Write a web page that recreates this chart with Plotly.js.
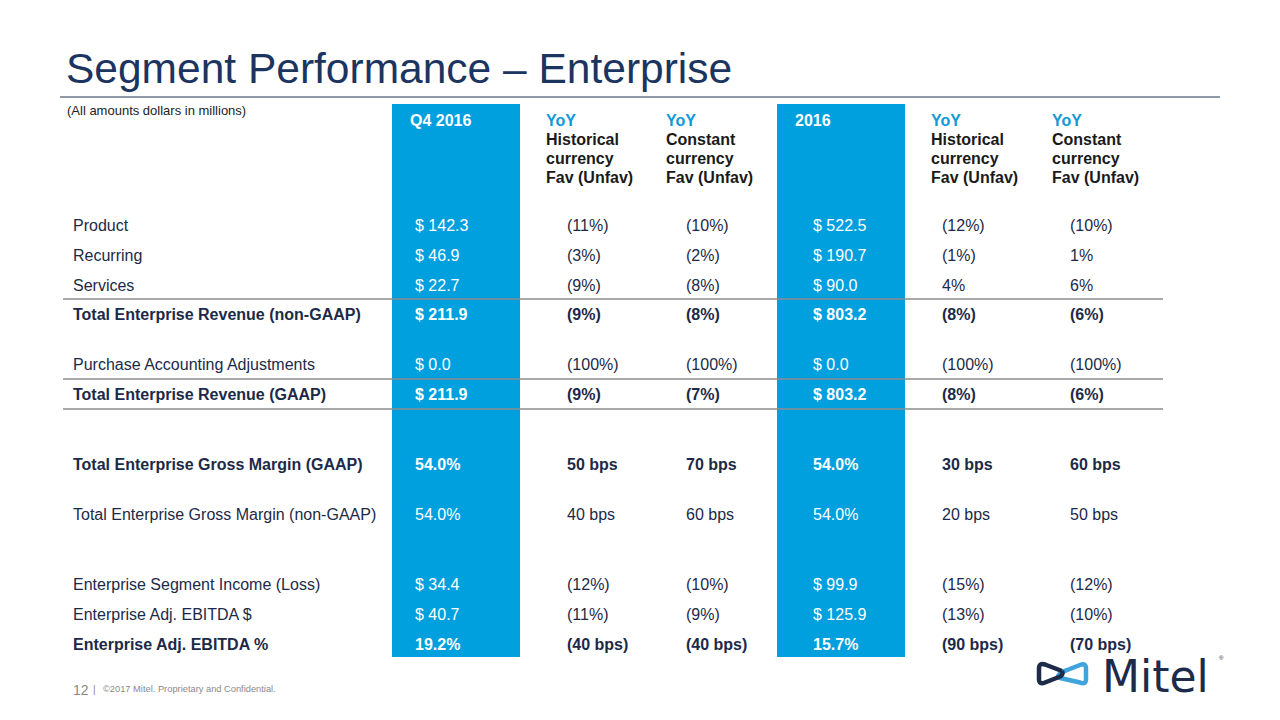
<!DOCTYPE html>
<html>
<head>
<meta charset="utf-8">
<script src="https://cdn.plot.ly/plotly-3.0.1.min.js"></script>
<style>html,body{margin:0;padding:0;background:#fff;}#chart{width:1280px;height:720px;}</style>
</head>
<body>
<div id="chart"></div>
<script>
// ---- Data ----
var rowLabels = ["Product","Recurring","Services","Total Enterprise Revenue (non-GAAP)","Purchase Accounting Adjustments","Total Enterprise Revenue (GAAP)","Total Enterprise Gross Margin (GAAP)","Total Enterprise Gross Margin (non-GAAP)","Enterprise Segment Income (Loss)","Enterprise Adj. EBITDA $","Enterprise Adj. EBITDA %"];
var rowBold = [false,false,false,true,false,true,true,false,false,false,true];
var q4Values = ["$ 142.3","$ 46.9","$ 22.7","$ 211.9","$ 0.0","$ 211.9","54.0%","54.0%","$ 34.4","$ 40.7","19.2%"];
var q4YoyHistorical = ["(11%)","(3%)","(9%)","(9%)","(100%)","(9%)","50 bps","40 bps","(12%)","(11%)","(40 bps)"];
var q4YoyConstant = ["(10%)","(2%)","(8%)","(8%)","(100%)","(7%)","70 bps","60 bps","(10%)","(9%)","(40 bps)"];
var fyValues = ["$ 522.5","$ 190.7","$ 90.0","$ 803.2","$ 0.0","$ 803.2","54.0%","54.0%","$ 99.9","$ 125.9","15.7%"];
var fyYoyHistorical = ["(12%)","(1%)","4%","(8%)","(100%)","(8%)","30 bps","20 bps","(15%)","(13%)","(90 bps)"];
var fyYoyConstant = ["(10%)","1%","6%","(6%)","(100%)","(6%)","60 bps","50 bps","(12%)","(10%)","(70 bps)"];
var columnHeaders = ["Q4 2016","YoY|Historical<br>currency<br>Fav (Unfav)","YoY|Constant<br>currency<br>Fav (Unfav)","2016","YoY|Historical<br>currency<br>Fav (Unfav)","YoY|Constant<br>currency<br>Fav (Unfav)"];

// ---- Layout (positions & styles) ----
var rowY = [225,255,285,314,364,394,464,514,584,614,644];
var colX = [413,565,684,811,940,1068];
var headerX = [408,544,664,793,929,1050];
var labelX = 71;
var navy = "#1c2a48";
var blue = "#00a0df";
var font = "Liberation Sans, Arial, sans-serif";

var ann = [];
function txt(x,y,t,size,color,bold,fam){
  ann.push({x:x,y:y,xref:"x",yref:"y",text:bold?"<b>"+t+"</b>":t,showarrow:false,
    xanchor:"left",yanchor:"middle",align:"left",
    font:{family:fam||font,size:size,color:color}});
}
// title
txt(64,68,"Segment Performance – Enterprise",42.5,"#1b3560",false);
txt(65,110,"(All amounts dollars in millions)",13,"#222222",false);

// headers
columnHeaders.forEach(function(h,i){
  if(h.indexOf("|")<0){
    txt(headerX[i],120,h,16,"#ffffff",true);
  } else {
    var parts=h.split("|");
    txt(headerX[i],120,parts[0],16,"#1299d6",true);
    parts[1].split("<br>").forEach(function(l,k){ txt(headerX[i],139+19*k,l,16,"#1a1a1a",true); });
  }
});

// body
var cols=[q4Values,q4YoyHistorical,q4YoyConstant,fyValues,fyYoyHistorical,fyYoyConstant];
var whiteCol=[true,false,false,true,false,false];
rowLabels.forEach(function(lab,r){
  txt(labelX,rowY[r],lab,16,navy,rowBold[r]);
  cols.forEach(function(c,ci){
    txt(colX[ci],rowY[r],c[r],16,whiteCol[ci]?"#ffffff":navy,rowBold[r]);
  });
});

// footer
txt(71,690,"12",14,"#8a8a8a",false);
txt(91,689,"|",10,"#8a8a8a",false);
txt(101,689,"©2017 Mitel. Proprietary and Confidential.",9.3,"#8a8a8a",false);
// logo wordmark
txt(1100,676,"Mitel",44,"#1c2b4a",false,"DejaVu Sans, sans-serif");
txt(1217,658,"®",6,"#1c2b4a",false);

var shapes=[
  {type:"rect",xref:"x",yref:"y",x0:392,x1:520,y0:104,y1:657,fillcolor:blue,line:{width:0},layer:"below"},
  {type:"rect",xref:"x",yref:"y",x0:777,x1:905,y0:104,y1:657,fillcolor:blue,line:{width:0},layer:"below"},
  {type:"line",xref:"x",yref:"y",x0:60,x1:1220,y0:97,y1:97,line:{color:"#8d9aa6",width:2}},
  {type:"line",xref:"x",yref:"y",x0:63,x1:1163,y0:299,y1:299,line:{color:"#8c8c8c",width:1.5}},
  {type:"line",xref:"x",yref:"y",x0:63,x1:1163,y0:379,y1:379,line:{color:"#8c8c8c",width:1.5}},
  {type:"line",xref:"x",yref:"y",x0:63,x1:1163,y0:409,y1:409,line:{color:"#8c8c8c",width:1.5}},
  // logo icon
  {type:"path",xref:"x",yref:"y",path:"M 1058,677.5 L 1080,682.5 Q 1086,685 1086,679 L 1086,668.5 Q 1086,662.5 1080,665 L 1066,670.5 Q 1058,673 1058,677.5",line:{color:"#3fa3de",width:4.5},fillcolor:"rgba(0,0,0,0)"},
  {type:"path",xref:"x",yref:"y",path:"M 1062,671 L 1045,664.5 Q 1039,662.5 1039,668.5 L 1039,679 Q 1039,685 1045,682.5 L 1059,677 Q 1064,675 1062,671",line:{color:"#1c2b4a",width:4.5},fillcolor:"rgba(0,0,0,0)"}
];

var layout={
  width:1280,height:720,margin:{l:0,r:0,t:0,b:0},
  paper_bgcolor:"#ffffff",plot_bgcolor:"#ffffff",showlegend:false,
  xaxis:{range:[0,1280],visible:false,fixedrange:true},
  yaxis:{range:[720,0],visible:false,fixedrange:true},
  shapes:shapes,annotations:ann
};
Plotly.newPlot("chart",[{x:[],y:[],type:"scatter",mode:"markers",hoverinfo:"skip"}],layout,{displayModeBar:false,staticPlot:true});
</script>
</body>
</html>
